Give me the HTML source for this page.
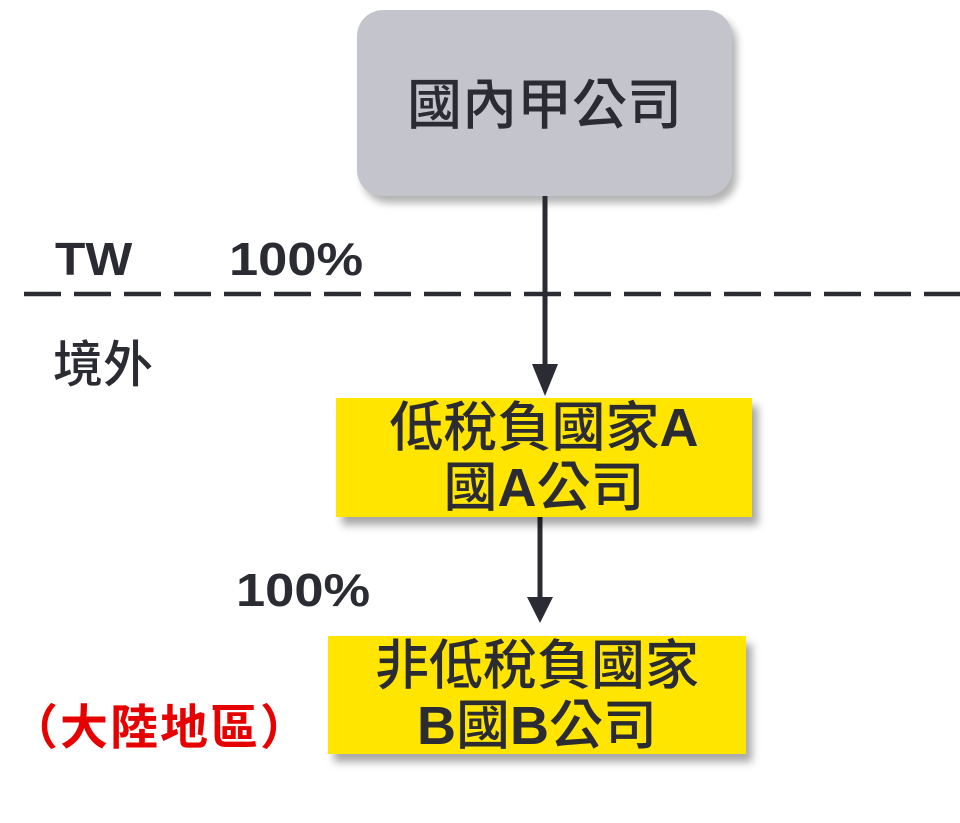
<!DOCTYPE html>
<html><head><meta charset="utf-8"><style>
body{margin:0;width:960px;height:823px;background:#fff;position:relative;overflow:hidden;font-family:"Liberation Sans","Noto Sans CJK TC",sans-serif;color:#2b2b33}
.a{position:absolute;white-space:nowrap}
.box{position:absolute;text-align:center;font-family:"Liberation Sans","Noto Sans CJK TC",sans-serif;font-weight:500;color:#2b2b33;box-sizing:border-box}
.box div{white-space:nowrap}
.y{background:#ffe500;box-shadow:6px 8px 8px rgba(0,0,0,0.35);font-size:54px;line-height:60px}
b{font-weight:bold}
</style></head><body>
<div class="box" style="left:357px;top:10px;width:375px;height:186px;background:#c4c4cc;border-radius:26px;box-shadow:5px 7px 8px rgba(0,0,0,0.3);font-size:55px;line-height:190px;">國內甲公司</div>
<svg class="a" style="left:0;top:0" width="960" height="823">
<line x1="24" y1="294" x2="960" y2="294" stroke="#2b2b33" stroke-width="4.5" stroke-dasharray="37 13"/>
<line x1="545" y1="196" x2="545" y2="370" stroke="#2b2b33" stroke-width="5"/>
<polygon points="532,364 558,364 545,396" fill="#2b2b33"/>
<line x1="540" y1="517" x2="540" y2="600" stroke="#2b2b33" stroke-width="5"/>
<polygon points="527,597 553,597 540,623" fill="#2b2b33"/>
</svg>
<div class="box y" style="left:336px;top:398px;width:416px;height:119px;"><div>低稅負國家<b>A</b></div><div>國<b>A</b>公司</div></div>
<div class="box y" style="left:328px;top:636px;width:418px;height:118px;"><div>非低稅負國家</div><div><b>B</b>國<b>B</b>公司</div></div>
<div class="a" style="left:55px;top:232px;font-size:46px;font-weight:bold;transform:scaleX(1.08);transform-origin:left">TW</div>
<div class="a" style="left:229px;top:232px;font-size:46px;font-weight:bold;transform:scaleX(1.14);transform-origin:left">100%</div>
<div class="a" style="left:53px;top:325px;font-size:50px;font-weight:500;">境外</div>
<div class="a" style="left:236px;top:563px;font-size:46px;font-weight:bold;transform:scaleX(1.14);transform-origin:left">100%</div>
<div class="a" style="left:10px;top:688px;font-size:48px;font-weight:bold;color:#e60000;letter-spacing:2px">（大陸地區）</div>
</body></html>
